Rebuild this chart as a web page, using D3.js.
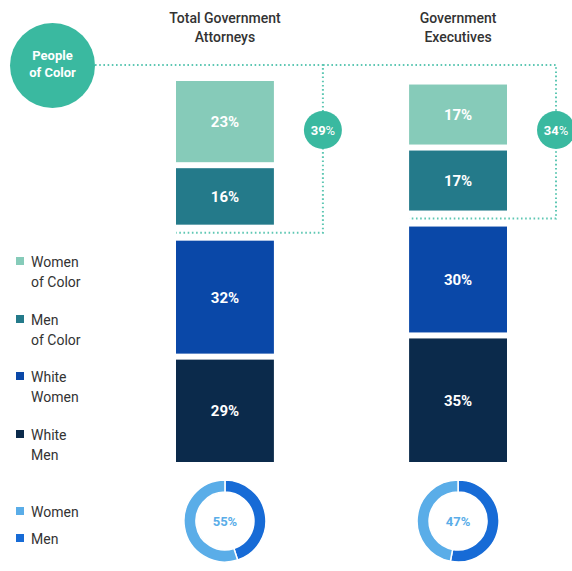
<!DOCTYPE html>
<html>
<head>
<meta charset="utf-8">
<script src="https://cdn.jsdelivr.net/npm/d3@7"></script>
<style>
  body { margin: 0; background: #fff; }
  svg text { font-family: Roboto, "Noto Sans", sans-serif; }
</style>
</head>
<body>
<div id="chart"></div>
<script>
// data
var groups = ["Total Government Attorneys", "Government Executives"];
var groupTitles = [["Total Government", "Attorneys"], ["Government", "Executives"]];
var categories = ["Women of Color", "Men of Color", "White Women", "White Men"];
var attorneys = [23, 16, 32, 29];
var executives = [17, 17, 30, 35];
var peopleOfColor = [39, 34];
var womenShare = [55, 47];
var menShare = [45, 53];

var colors = ["#86cbb9", "#247a8a", "#0a48a8", "#0b2a4b"];
var womenColor = "#5aade8", menColor = "#176bd6";
var teal = "#3ab9a0", dotColor = "#5ec7b3";

var svgWidth = 572, svgHeight = 571;

var svg = d3.select("#chart")
  .append("svg")
  .attr("width", svgWidth)
  .attr("height", svgHeight);

// scales
var x = d3.scaleBand()
  .domain(groups)
  .range([176, 507])
  .paddingInner(0.58)
  .paddingOuter(0);

var h = d3.scaleLinear()
  .domain([0, 100])
  .range([0, 353]);

var baseline = 462;
var gapSmall = 6, gapBig = 16;

// build stacked rects bottom-up
function layout(values) {
  var out = [];
  var y = baseline;
  for (var i = values.length - 1; i >= 0; i--) {
    var hh = h(values[i]);
    out[i] = { value: values[i], cat: categories[i], color: colors[i], y: y - hh, h: hh };
    y = y - hh - (i == 2 ? gapBig : gapSmall);
  }
  return out;
}

var series = [attorneys, executives];
var bw = x.bandwidth();
var lineStarts = [95, 323]; // where each group's top dotted line begins

series.forEach(function(values, gi) {
  var gx = x(groups[gi]);
  var g = svg.append("g").attr("transform", `translate(${gx},0)`);
  var cx = bw / 2;
  var rows = layout(values);

  // title
  g.append("text")
    .attr("x", cx).attr("y", 23)
    .attr("text-anchor", "middle")
    .attr("font-size", "14px").attr("font-weight", 500).attr("fill", "#333")
    .selectAll("tspan")
    .data(groupTitles[gi])
    .enter().append("tspan")
    .attr("x", cx)
    .attr("dy", (d, i) => i == 0 ? 0 : 19)
    .text(d => d);

  g.selectAll("rect.seg")
    .data(rows)
    .enter().append("rect")
    .attr("class", "seg")
    .attr("x", 0).attr("width", bw)
    .attr("y", d => d.y).attr("height", d => d.h)
    .attr("fill", d => d.color);

  g.selectAll("text.val")
    .data(rows)
    .enter().append("text")
    .attr("class", "val")
    .attr("x", cx)
    .attr("y", d => d.y + d.h / 2)
    .attr("dy", "0.36em")
    .attr("text-anchor", "middle")
    .attr("font-size", "15px").attr("font-weight", 700).attr("fill", "#fff")
    .text(d => d.value + "%");

  // bracket for people of color
  var top = 65;
  var rx = bw + 49;
  var bottom = rows[1].y + rows[1].h + gapBig / 2;
  var path = d3.path();
  path.moveTo(lineStarts[gi] - gx, top);
  path.lineTo(rx, top);
  path.lineTo(rx, bottom);
  path.lineTo(0, bottom);
  g.append("path")
    .attr("d", path.toString())
    .attr("fill", "none")
    .attr("stroke", dotColor)
    .attr("stroke-width", 2)
    .attr("stroke-dasharray", "1.6 2.6");

  g.append("circle")
    .attr("cx", rx).attr("cy", 130).attr("r", 19)
    .attr("fill", teal);
  var lt = g.append("text")
    .attr("x", rx).attr("y", 130).attr("dy", "0.36em")
    .attr("text-anchor", "middle")
    .attr("font-size", "13px").attr("fill", "#fff");
  lt.append("tspan").attr("font-weight", 700).text(peopleOfColor[gi]);
  lt.append("tspan").attr("font-weight", 400).text("%");

  // donut
  var pie = d3.pie().sort(null).value(d => d.v);
  var arc = d3.arc().innerRadius(29).outerRadius(41);
  var pieData = pie([{ k: "Men", v: menShare[gi] }, { k: "Women", v: womenShare[gi] }]);
  var dg = g.append("g").attr("transform", `translate(${cx},521)`);
  dg.selectAll("path")
    .data(pieData)
    .enter().append("path")
    .attr("d", arc)
    .attr("fill", d => d.data.k == "Men" ? menColor : womenColor)
    .attr("stroke", "#fff").attr("stroke-width", 1.5);
  dg.append("text")
    .attr("text-anchor", "middle").attr("dy", "0.36em")
    .attr("font-size", "13px").attr("font-weight", 700).attr("fill", womenColor)
    .text(womenShare[gi] + "%");
});

// People of Color circle
svg.append("circle")
  .attr("cx", 52.5).attr("cy", 65.5).attr("r", 42.5)
  .attr("fill", teal);
svg.append("text")
  .attr("x", 52.5).attr("y", 60)
  .attr("text-anchor", "middle")
  .attr("font-size", "13px").attr("font-weight", 700).attr("fill", "#fff")
  .selectAll("tspan")
  .data(["People", "of Color"])
  .enter().append("tspan")
  .attr("x", 52.5)
  .attr("dy", (d, i) => i == 0 ? 0 : 17)
  .text(d => d);

// legends
var legendLabels = [["Women", "of Color"], ["Men", "of Color"], ["White", "Women"], ["White", "Men"]];
var legendY = [267, 325, 382, 440];
var lg = svg.selectAll("g.legend")
  .data(categories)
  .enter().append("g")
  .attr("class", "legend")
  .attr("transform", (d, i) => `translate(16,${legendY[i]})`);
lg.append("rect")
  .attr("x", 0).attr("y", -10).attr("width", 8).attr("height", 8)
  .attr("fill", (d, i) => colors[i]);
lg.append("text")
  .attr("x", 15).attr("y", 0)
  .attr("font-size", "14px").attr("fill", "#333")
  .selectAll("tspan")
  .data((d, i) => legendLabels[i])
  .enter().append("tspan")
  .attr("x", 15)
  .attr("dy", (d, i) => i == 0 ? 0 : 20)
  .text(d => d);

var gender = [["Women", womenColor, 517], ["Men", menColor, 544]];
var gl = svg.selectAll("g.glegend")
  .data(gender)
  .enter().append("g")
  .attr("transform", d => `translate(16,${d[2]})`);
gl.append("rect")
  .attr("x", 0).attr("y", -10).attr("width", 8).attr("height", 8)
  .attr("fill", d => d[1]);
gl.append("text")
  .attr("x", 15).attr("font-size", "14px").attr("fill", "#333")
  .text(d => d[0]);
</script>
</body>
</html>
